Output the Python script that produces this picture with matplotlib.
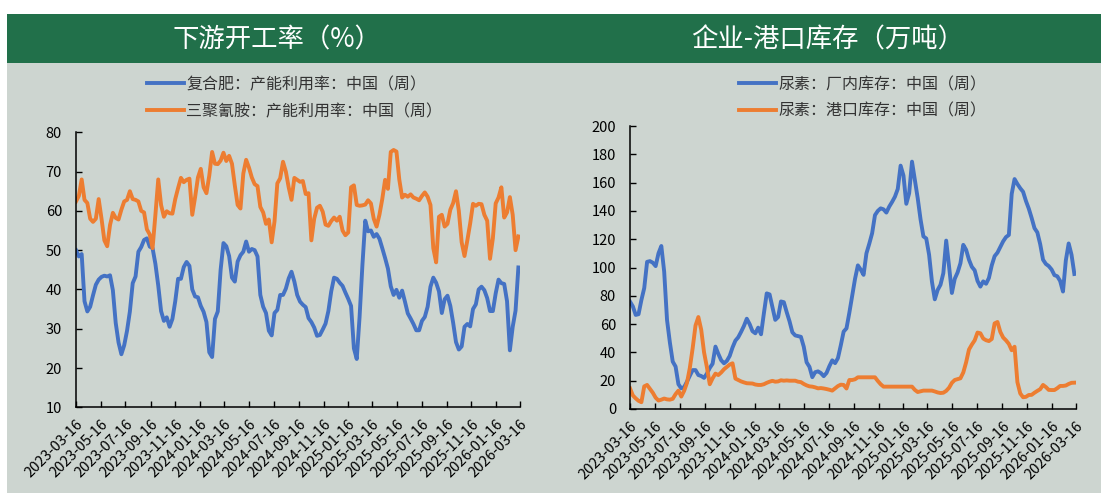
import matplotlib.pyplot as plt
import pandas as pd
from matplotlib.patches import Rectangle

plt.rcParams["font.family"] = ["Noto Sans CJK SC", "DejaVu Sans"]

# weekly data, first week 2023-03-16
start = "2023-03-16"
tick_labels = [
    "2023-03-16", "2023-05-16", "2023-07-16", "2023-09-16", "2023-11-16",
    "2024-01-16", "2024-03-16", "2024-05-16", "2024-07-16", "2024-09-16",
    "2024-11-16", "2025-01-16", "2025-03-16", "2025-05-16", "2025-07-16",
    "2025-09-16", "2025-11-16", "2026-01-16", "2026-03-16",
]

# 复合肥 capacity utilisation (%)
rate_fert = [
    50, 48.4, 49, 37, 34.4, 35.6, 38.5, 41.2, 42.5, 43.2,
    43.5, 43.3, 43.6, 39.8, 31.5, 26.5, 23.5, 25.8, 29.5, 34.4,
    41.6, 43.3, 49.6, 50.8, 52.6, 53, 50.9, 50.5, 46.5, 41,
    34.5, 32, 32.9, 30.5, 32.5, 37, 42.7, 42.7, 45.7, 47,
    46, 40, 38.2, 38, 35.8, 34.3, 31.7, 24, 22.8, 32.5,
    34.4, 45, 51.8, 51, 48.5, 43, 42, 47.1, 48.7, 49.6,
    52.2, 49.6, 50.3, 50, 48.4, 38.6, 35.6, 34, 29.5, 28.3,
    34, 34.8, 38.6, 38.6, 40.2, 42.8, 44.5, 42, 38.6, 36.9,
    36.1, 35.5, 32.7, 31.7, 30.3, 28.2, 28.4, 29.8, 31.3, 34.5,
    39.5, 43, 42.7, 41.7, 40.9, 39.2, 37.6, 35.8, 25, 22.3,
    33, 46.2, 57.5, 54.8, 55, 53.4, 54.1, 52.9, 50.5, 48,
    45.3, 40.8, 38.6, 39.9, 37.9, 39.7, 36.9, 33.9, 32.6, 31.2,
    29.6, 29.6, 32, 33, 35.6, 40.7, 43, 41.7, 39.5, 34,
    37.5, 38.4, 35.8, 31.5, 26.6, 24.7, 25.5, 30.5, 31.2, 30.6,
    35, 36.2, 40, 40.7, 39.8, 37.8, 34.5, 34.5, 39, 42.5,
    41.6, 41.4, 37, 24.5, 30.5, 34.6, 45.6,
]

# 三聚氰胺 capacity utilisation (%)
rate_melamine = [
    62.4, 63.8, 68, 62.8, 62, 58, 57.2, 58, 63, 58,
    52.5, 51, 56.4, 59.5, 58.2, 57.8, 60.3, 62.4, 62.8, 65,
    63, 62.8, 62.4, 60, 59.6, 55.3, 54, 50.5, 59, 68,
    61.5, 58.5, 59.9, 59.4, 59.3, 63, 65.8, 68.4, 67.3, 67.9,
    68.2, 59, 63.5, 68.5, 70.7, 66, 64.5, 69, 75, 72,
    71.9, 72.8, 74.8, 72.7, 74, 72, 66.5, 61.5, 60.6, 69.5,
    73, 71, 68.5, 66.8, 66.3, 61, 59.6, 56.7, 57.8, 52,
    57.3, 67, 68.3, 72.5, 70, 66, 62.8, 68.4, 67.9, 67.4,
    67.6, 64.3, 64.5, 52.5, 58, 60.8, 61.3, 59.8, 56.5, 56.2,
    57.4, 58.3, 57.5, 58.5, 55, 53.8, 54.5, 66, 66.5, 61.5,
    61.3, 61.4, 61.6, 62.7, 61.9, 58, 56, 59, 63, 67.9,
    65.6, 75, 75.5, 75.1, 68, 63.4, 64.1, 63.6, 64.2, 63.4,
    63.1, 62.7, 63.8, 64.7, 63.6, 61.5, 50.5, 46.9, 58.5, 59,
    56, 56.7, 60.3, 62, 65, 60, 52, 48.5, 52.5, 56.8,
    61.8, 61.3, 61.8, 61.7, 59, 57.5, 47.8, 53, 61.9, 63.4,
    66, 58.3, 59.6, 63.5, 59, 50, 53.5,
]

# 尿素 厂内库存 (万吨)
urea_plant = [
    75.9, 72.5, 66.5, 67, 77, 85.5, 104, 104.5, 103.4, 101,
    110, 115.2, 97, 62.9, 47, 33.5, 30, 17.5, 14.6, 15.5,
    19.3, 23.5, 27.5, 27.5, 24, 23.3, 22, 25, 29, 32,
    44.1, 39, 34.5, 32.3, 34, 37.5, 43.5, 48.3, 50.7, 54.5,
    58.7, 63.8, 60, 55, 53.5, 57.5, 52.8, 67.6, 81.7, 81,
    72, 63, 65, 76, 75.5, 68.5, 62, 54.2, 52, 51.5,
    51, 44, 33, 29.8, 22.5, 26, 26.6, 25.4, 23.2, 25.5,
    30.3, 34.4, 32.4, 36, 45, 54.7, 57, 68, 80, 92,
    101.5, 98.5, 94.8, 110, 116.8, 124.2, 137, 140, 141.8, 141.1,
    138.8, 143, 146.3, 150, 155.5, 172, 165, 145, 152.5, 174.8,
    162, 149, 134, 122, 120.5, 109, 90, 77.5, 84.1, 87.8,
    96, 119, 101, 82, 92, 96.5, 103, 116, 112.5, 105.5,
    100.5, 98, 90.5, 86.5, 90.2, 88.5, 92.6, 101.5, 108, 110.5,
    114.5, 118.5, 121.5, 123, 152, 162.5, 159, 156, 153.5, 147,
    141.6, 135, 127.8, 124.8, 116.5, 105.5, 102.5, 101, 98.6, 94.6,
    93.8, 90.5, 83, 105, 117, 109, 95.4,
]

# 尿素 港口库存 (万吨)
urea_port = [
    14.6, 9.6, 7.5, 5.8, 4.8, 16, 17, 14.2, 11.5, 8,
    6, 6.6, 7.4, 6.8, 6.6, 7.2, 10.5, 13, 8.8, 12.8,
    18.5, 29, 43, 59, 65, 56, 40, 29.5, 17.5, 21.7,
    25, 24, 25.8, 28.1, 29.7, 31.4, 32.3, 21.5, 20.5, 19.5,
    18.8, 18.2, 18.1, 18, 17.3, 17, 17, 17.5, 18.5, 19.3,
    19.9, 19.3, 19.5, 20.3, 20, 20.2, 20, 20, 20, 19.3,
    19, 17.7, 16.7, 16, 15.8, 15.3, 14.6, 14.8, 14.5, 14.1,
    13.6, 13, 14.6, 16.2, 17.2, 17, 14.5, 20.5, 20.5, 21,
    22.4, 22.4, 22.4, 22.4, 22.4, 22.4, 22.4, 19.8, 17.5, 15.8,
    15.8, 15.8, 15.8, 15.8, 15.8, 15.8, 15.8, 15.8, 15.8, 15.8,
    13.5, 12, 12.5, 13, 13, 13, 13, 12.4, 11.7, 11.3,
    11.5, 12.8, 15, 18.5, 20.5, 21.1, 21.7, 25.8, 33, 42,
    45.5, 48.5, 54, 53.5, 49.8, 48.6, 48, 49.5, 60.5, 61.5,
    54.5, 50.5, 48.5, 46, 41.5, 44, 19, 11, 8.3, 8.6,
    9.9, 10, 11.5, 12.8, 14, 17, 15.5, 13.5, 13.4, 13.4,
    14.7, 16.3, 16.3, 16.6, 17.7, 18.5, 18.6,
]

BLUE = "#4472C4"
ORANGE = "#ED7D31"
GREEN = "#21704A"
PANEL = "#CDD5D0"
W, H = 1101, 495

fig = plt.figure(figsize=(W / 100, H / 100), dpi=100)

# one grey sheet under both charts, green band on top
fig.patches.append(Rectangle((7 / W, 1 - 493 / H), (W - 7) / W, (493 - 63) / H,
                             transform=fig.transFigure, fc=PANEL, ec="none", zorder=-2))
fig.patches.append(Rectangle((7 / W, 1 - 63 / H), (W - 7) / W, (63 - 14) / H,
                             transform=fig.transFigure, fc=GREEN, ec="none", zorder=-1))
fig.text(277 / W, 1 - 40 / H, "下游开工率（%）", color="white", fontsize=19,
         ha="center", va="center")
fig.text(828 / W, 1 - 40 / H, "企业-港口库存（万吨）", color="white", fontsize=19,
         ha="center", va="center")


def add_chart(x0, x1, y_top, y_bot, series, ylim, ystep, legend_x):
    ax = fig.add_axes([x0 / W, 1 - y_bot / H, (x1 - x0) / W, (y_bot - y_top) / H])
    ax.set_facecolor("none")
    for values, color, label in series:
        weeks = pd.date_range(start, periods=len(values), freq="7D")
        ax.plot(weeks, values, color=color, lw=2.8, label=label, solid_joinstyle="round")

    ticks = pd.to_datetime(tick_labels)
    ax.set_xlim(ticks[0], ticks[-1])
    ax.set_xticks(ticks)
    ax.set_xticklabels(tick_labels, rotation=45, ha="right", rotation_mode="anchor")
    ax.set_ylim(*ylim)
    ax.set_yticks(range(ylim[0], ylim[1] + 1, ystep))

    for side in ("top", "right"):
        ax.spines[side].set_visible(False)
    for side in ("left", "bottom"):
        ax.spines[side].set_linewidth(1.1)
        ax.spines[side].set_color("black")
    ax.tick_params(direction="in", length=4, width=1, labelsize=10.5, colors="black")
    ax.tick_params(axis="y", pad=10)
    ax.tick_params(axis="x", pad=7)

    ax.legend(loc="upper left", bbox_to_anchor=(legend_x / W, 1 - 76 / H),
              bbox_transform=fig.transFigure, frameon=False, fontsize=11.5,
              handlelength=2.3, handletextpad=0.15, borderpad=0, borderaxespad=0,
              labelspacing=0.62, labelcolor="#333333")
    return ax


add_chart(76, 520, 132.3, 407.3,
          [(rate_fert, BLUE, "复合肥：产能利用率：中国（周）"),
           (rate_melamine, ORANGE, "三聚氰胺：产能利用率：中国（周）")],
          (10, 80), 10, 147)
add_chart(630, 1076, 126, 409,
          [(urea_plant, BLUE, "尿素：厂内库存：中国（周）"),
           (urea_port, ORANGE, "尿素：港口库存：中国（周）")],
          (0, 200), 20, 739)

fig.savefig("out.png", dpi=100, facecolor="white")
